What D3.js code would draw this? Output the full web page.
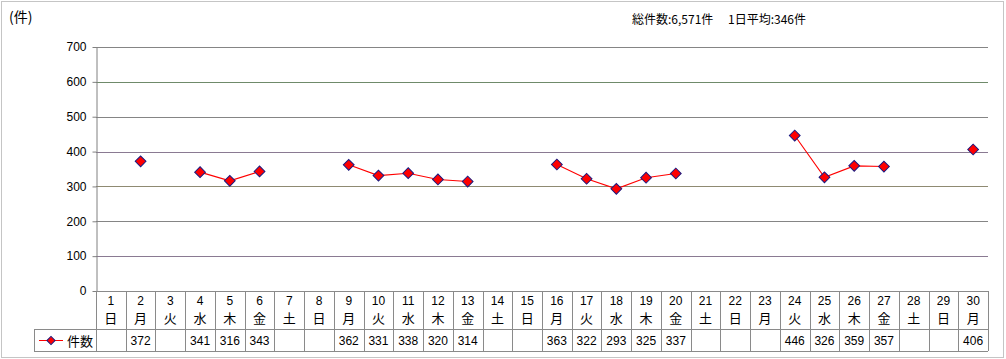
<!DOCTYPE html>
<html><head><meta charset="utf-8">
<script src="https://cdn.jsdelivr.net/npm/d3@7"></script>
<style>
html,body{margin:0;padding:0;background:#fff;}
svg{display:block;font-family:"Noto Sans CJK JP","Noto Sans",sans-serif;}
</style></head>
<body>
<svg id="c" width="1006" height="359"></svg>
<script>
const days = d3.range(1, 31);
const weekdays = ["日","月","火","水","木","金","土","日","月","火","水","木","金","土","日","月","火","水","木","金","土","日","月","火","水","木","金","土","日","月"];
const counts = [null,372,null,341,316,343,null,null,362,331,338,320,314,null,null,363,322,293,325,337,null,null,null,446,326,359,357,null,null,406];
const yTicks = [0,100,200,300,400,500,600,700];
const seriesName = "件数";
const unitLabel = "(件)";
const summary = "総件数:6,571件　 1日平均:346件";

const svg = d3.select("#c");
const L = 96, R = 988, T = 47, B = 291;
const row1 = 329, row2 = 351, legL = 34;

// outer border
svg.append("rect").attr("x",1.5).attr("y",1.5).attr("width",1002).attr("height",356)
  .attr("fill","none").attr("stroke","#8a8a8a").attr("stroke-dasharray","1,1");

const x = d3.scaleBand().domain(days).range([L, R]).padding(0);
const y = d3.scaleLinear().domain([0,700]).range([B, T]);

const gridColors = {0:"#808080",100:"#8a7a92",200:"#858585",300:"#8f8a72",400:"#8a7a92",500:"#858585",600:"#6f8a6a",700:"#858585"};
svg.append("g").selectAll("line").data(yTicks.filter(t=>t>0)).join("line")
  .attr("x1",L).attr("x2",R).attr("y1",d=>Math.round(y(d))+0.5).attr("y2",d=>Math.round(y(d))+0.5)
  .attr("stroke",d=>gridColors[d]).attr("stroke-width",1);

// y axis
const ya = svg.append("g").attr("transform",`translate(${L+0.5},0)`)
  .call(d3.axisLeft(y).tickValues(yTicks).tickSize(4).tickSizeOuter(0).tickPadding(6));
ya.select(".domain").attr("stroke","#808080");
ya.selectAll(".tick line").attr("stroke","#808080");
ya.selectAll(".tick text").attr("font-size",12).attr("fill","#000")
  .attr("font-family","'Liberation Sans',Arial,sans-serif");

// table
const tg = svg.append("g").attr("stroke","#8a8a8a").attr("stroke-width",1).attr("fill","none");
tg.append("line").attr("x1",L).attr("x2",R).attr("y1",B+0.5).attr("y2",B+0.5);
tg.append("line").attr("x1",legL).attr("x2",R).attr("y1",row1+0.5).attr("y2",row1+0.5);
tg.append("line").attr("x1",legL).attr("x2",R).attr("y1",row2+0.5).attr("y2",row2+0.5);
tg.append("line").attr("x1",legL+0.5).attr("x2",legL+0.5).attr("y1",row1).attr("y2",row2);
tg.append("line").attr("x1",L+0.5).attr("x2",L+0.5).attr("y1",B).attr("y2",row2);
tg.selectAll("line.v").data(days).join("line").attr("class","v")
  .attr("x1",d=>Math.round(x(d)+x.bandwidth())+0.5).attr("x2",d=>Math.round(x(d)+x.bandwidth())+0.5)
  .attr("y1",B).attr("y2",row2);

const txt = svg.append("g").attr("fill","#000").attr("text-anchor","middle");
txt.selectAll("text.d").data(days).join("text").attr("class","d")
  .attr("x",d=>x(d)+x.bandwidth()/2).attr("y",305).attr("font-size",12)
  .attr("font-family","'Liberation Sans',Arial,sans-serif").text(d=>d);
txt.selectAll("text.w").data(days).join("text").attr("class","w")
  .attr("x",d=>x(d)+x.bandwidth()/2).attr("y",323).attr("font-size",13)
  .text((d,i)=>weekdays[i]);
txt.selectAll("text.v").data(days).join("text").attr("class","v")
  .attr("x",d=>x(d)+x.bandwidth()/2).attr("y",345).attr("font-size",12)
  .attr("font-family","'Liberation Sans',Arial,sans-serif")
  .text((d,i)=>counts[i]==null?"":counts[i]);

// legend
const diamond = d3.symbol(d3.symbolSquare);
svg.append("line").attr("x1",39).attr("x2",63).attr("y1",340.5).attr("y2",340.5).attr("stroke","red");
svg.append("path").attr("d",diamond.size(34)()).attr("transform","translate(51,340.5) rotate(45)")
  .attr("fill","red").attr("stroke","#1a1a80");
svg.append("text").attr("x",67).attr("y",345.5).attr("font-size",13).text(seriesName);

// series
const pts = days.map((d,i)=>({d, v:counts[i]}));
svg.append("path").datum(pts)
  .attr("d", d3.line().defined(p=>p.v!=null).x(p=>x(p.d)+x.bandwidth()/2).y(p=>y(p.v)))
  .attr("fill","none").attr("stroke","red").attr("stroke-width",1.1);
svg.append("g").selectAll("path").data(pts.filter(p=>p.v!=null)).join("path")
  .attr("d", diamond.size(58)())
  .attr("transform",p=>`translate(${x(p.d)+x.bandwidth()/2},${y(p.v)}) rotate(45)`)
  .attr("fill","red").attr("stroke","#1a1a80").attr("stroke-width",1);

// titles
svg.append("text").attr("x",9).attr("y",22).attr("font-size",14).text(unitLabel);
svg.append("text").attr("x",632).attr("y",24).attr("font-size",12).attr("xml:space","preserve").text(summary);
</script>
</body></html>
